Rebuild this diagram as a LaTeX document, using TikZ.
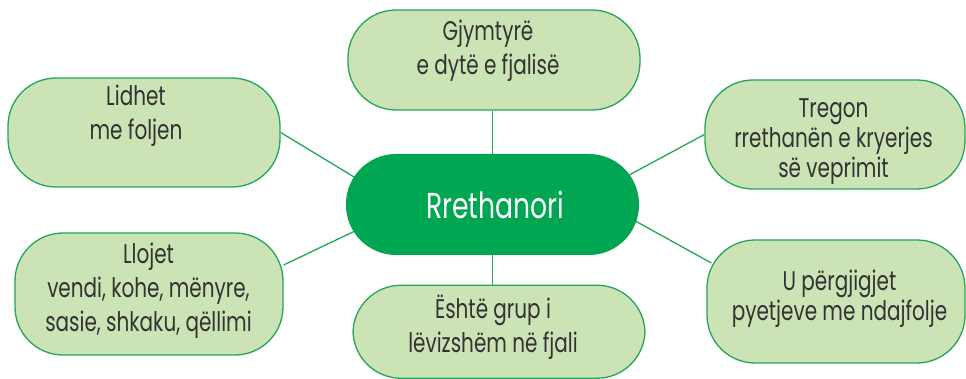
\documentclass[tikz,border=0pt]{standalone}
\usepackage{fontspec}
\setmainfont{Poppins}[FakeStretch=0.74]
\usetikzlibrary{backgrounds,calc}
\definecolor{bubblefill}{HTML}{CBE3B5}
\definecolor{bubbleline}{HTML}{22A65A}
\definecolor{mainfill}{HTML}{00A651}
\definecolor{textgray}{HTML}{333333}
\tikzset{
  bubble/.style={draw=bubbleline, line width=0.65pt, fill=bubblefill,
    rounded corners=24pt, inner sep=0pt},
  mainbubble/.style={fill=mainfill, rounded corners=25pt, inner sep=0pt},
  wide lines/.style={text=textgray, align=center,
    font=\fontsize{13.5}{17}\selectfont},
  tight lines/.style={text=textgray, align=center,
    font=\fontsize{13.5}{13.5}\selectfont},
  link/.style={draw=bubbleline, line width=0.65pt}
}
\begin{document}
\begin{tikzpicture}[x=0.5pt,y=-0.5pt]
\useasboundingbox (0,0) rectangle (966,379);
% bubbles
\node[mainbubble, minimum width=146.5pt, minimum height=50.5pt] (c) at (492.5,204.5) {};
\node[bubble, minimum width=146pt, minimum height=50pt] (tp) at (494,60) {};
\node[bubble, minimum width=136pt, minimum height=54.5pt] (lt) at (144,132.5) {};
\node[bubble, minimum width=130pt, minimum height=54.5pt] (rt) at (835,134.5) {};
\node[bubble, minimum width=134pt, minimum height=61pt] (lb) at (149,294) {};
\node[bubble, minimum width=129pt, minimum height=61.5pt] (rb) at (836,301.5) {};
\node[bubble, minimum width=146pt, minimum height=46.5pt] (bt) at (499,331.75) {};
% texts
\node[text=white, font=\fontsize{18}{18}\selectfont] (ctext) at (495,205) {Rrethanori};
\node[wide lines] (tptext) at (488,51) {Gjymtyrë\\e dytë e fjalisë};
\node[wide lines] (lttext) at (136,116) {Lidhet\\me foljen};
\node[tight lines] (rttext) at (833.5,141.5) {Tregon\\rrethanën e kryerjes\\së veprimit};
\node[wide lines] (lbtext) at (148.5,291) {Llojet\\vendi, kohe, mënyre,\\sasie, shkaku, qëllimi};
\node[tight lines] (rbtext) at (839.5,299) {U përgjigjet\\pyetjeve me ndajfolje};
\node[wide lines] (bttext) at (493,327) {Është grup i\\lëvizshëm në fjali};
% links
\begin{scope}[on background layer]
\draw[link] (c.north) -- (c.north |- tp.south);
\draw[link] (c.south) -- (c.south |- bt.north);
\draw[link] (lt.east) -- ($(c.center)+(-93,0)$);
\draw[link] (rt.west) -- ($(c.center)+(82,0)$);
\draw[link] ($(lb.east)+(0,-29)$) -- ($(c.center)+(-82,0)$);
\draw[link] ($(rb.west)+(5,-38.5)$) -- ($(c.center)+(113,0)$);
\end{scope}
\end{tikzpicture}
\end{document}
